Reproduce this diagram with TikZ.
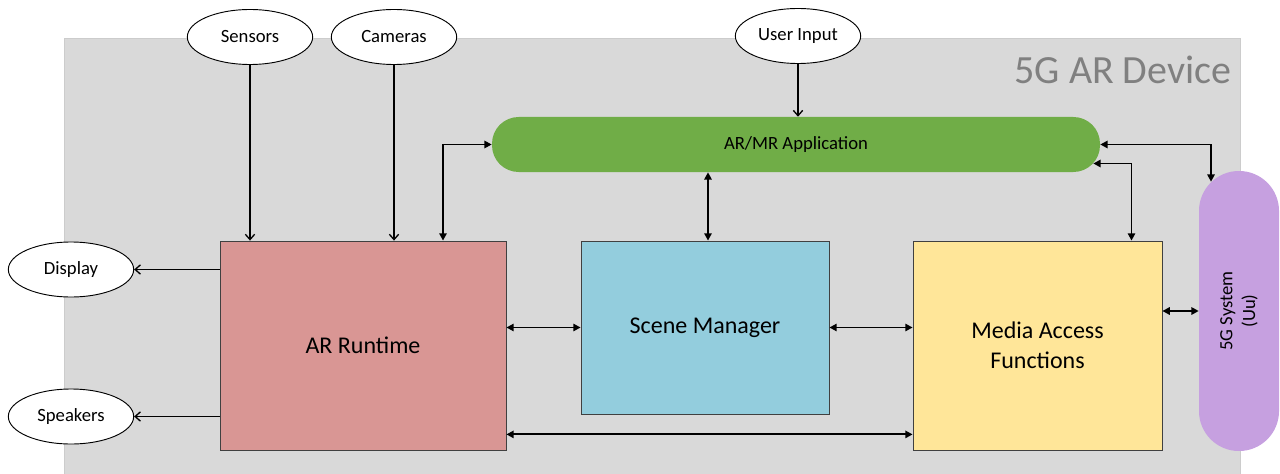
\documentclass[tikz,border=0pt]{standalone}
\usepackage{fontspec}
\setmainfont{Carlito}
\usetikzlibrary{arrows.meta,calc,shapes.geometric}

\definecolor{runtimeRed}{HTML}{D99694}
\definecolor{sceneBlue}{HTML}{93CDDD}
\definecolor{mediaYellow}{HTML}{FFE699}
\definecolor{appGreen}{HTML}{70AD47}
\definecolor{sysPurple}{HTML}{C6A0E0}

\begin{document}
\begin{tikzpicture}[x=.75pt, y=-.75pt,
  block/.style={draw=black!75, line width=.6pt, align=center, font=\fontsize{18}{22.5}\selectfont},
  io/.style={ellipse, draw, fill=white, line width=.7pt, inner sep=0pt,
    minimum width=94pt, minimum height=41.25pt, font=\fontsize{14}{16}\selectfont},
  feed/.style={-{Straight Barb[length=4pt,width=7pt]}, line width=1pt},
  link/.style={{Triangle[length=5.5pt,width=5.5pt]}-{Triangle[length=5.5pt,width=5.5pt]}, line width=1.4pt}]
\useasboundingbox (0,0) rectangle (1280,474);
\fill[black!15, draw=black!20] (64,38) rectangle (1240,480);
\node[anchor=east, text=black!50, font=\fontsize{30}{36}\selectfont] (title) at (1236,70) {5G AR Device};

% device blocks
\node[block, fill=runtimeRed, minimum width=214.5pt, minimum height=156.75pt] (rt) at (363,345.5) {AR Runtime};
\node[block, fill=sceneBlue, minimum width=186pt, minimum height=129.75pt] (scn) at (705,327.5) {Scene Manager};
\node[block, fill=mediaYellow, minimum width=186.75pt, minimum height=156.75pt] (maf) at (1037.5,345.5) {Media Access\\Functions};
\node[fill=appGreen, rounded corners=20pt, minimum width=456pt, minimum height=41.25pt,
  font=\fontsize{14}{16}\selectfont] (app) at (796,144.5) {AR/MR Application};
\node[fill=sysPurple, rounded corners=29.9pt, minimum width=60pt, minimum height=210pt] (sys) at (1239,311) {};
\node[rotate=90, align=center, font=\fontsize{14}{17}\selectfont] (systxt) at (sys) {5G System\\(Uu)};

% inputs and outputs
\node[io] (sen) at (250,37) {Sensors};
\node[io] (cam) at (394,37) {Cameras};
\node[io] (usr) at (798,36) {User Input};
\node[io] (dsp) at (71,269.5) {Display};
\node[io] (spk) at (71,416.5) {Speakers};

\draw[feed] (sen) -- (sen |- rt.north);
\draw[feed] (cam) -- (cam |- rt.north);
\draw[feed] (usr) -- (usr |- app.north);
\draw[feed] (rt.west |- dsp) -- (dsp);
\draw[feed] (rt.west |- spk) -- (spk);

\coordinate (rtlow) at ($(rt.south east)+(0,-16)$);
\coordinate (scntop) at ($(scn.north)+(3,0)$);
\draw[link] ($(rt.north)+(80,0)$) |- (app.west);
\draw[link] (scntop) -- (scntop |- app.south);
\draw[link] (app.east) -| ($(sys.north)+(-28,11)$);
\draw[link] ($(app.east)+(-7,19)$) -| ($(maf.north)+(94,0)$);
\draw[link] (rt.east |- scn) -- (scn.west);
\draw[link] (scn.east) -- (scn.east -| maf.west);
\draw[link] (rtlow) -- (rtlow -| maf.west);
\draw[link] (maf.east |- sys) -- (sys.west);
\end{tikzpicture}
\end{document}
